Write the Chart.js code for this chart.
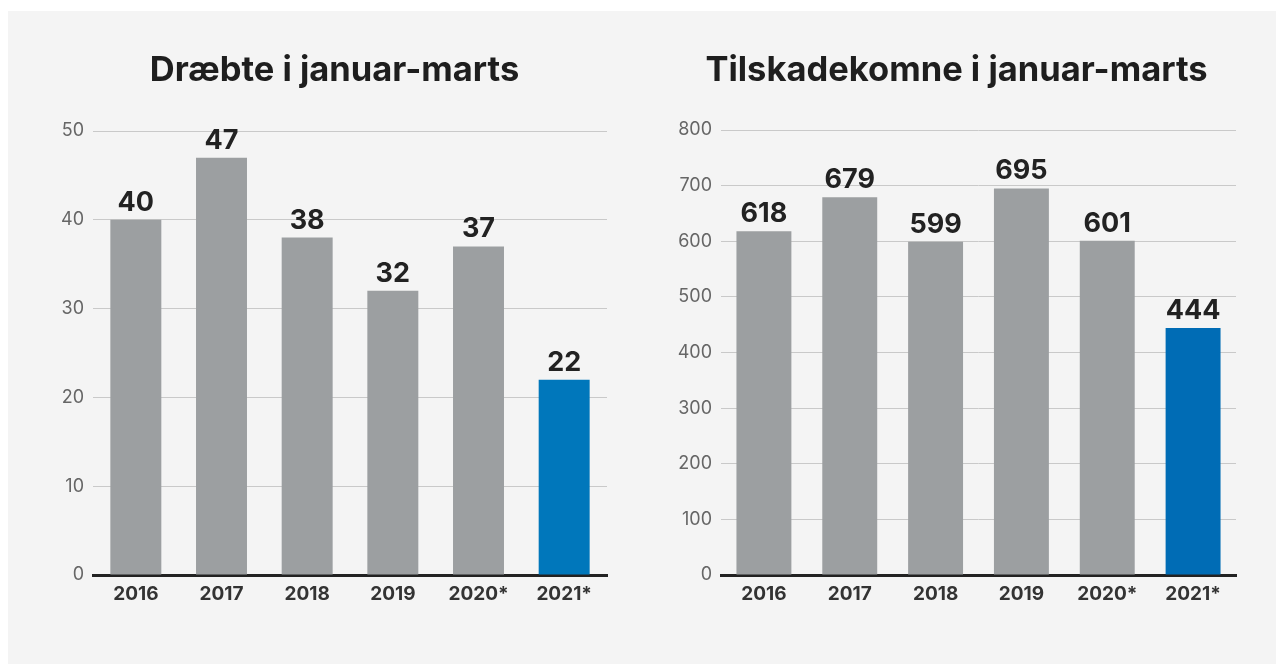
<!DOCTYPE html>
<html>
<head>
<meta charset="utf-8">
<script src="https://cdn.jsdelivr.net/npm/chart.js@4.4.1/dist/chart.umd.min.js"></script>
<style>
  html, body { margin: 0; padding: 0; background: #ffffff; }
  body { width: 1276px; height: 664px; position: relative; overflow: hidden; }
  #panel { position: absolute; left: 8px; top: 11px; right: 0; bottom: 0; background: #f4f4f4; }
  .box { position: absolute; top: 0; height: 664px; }
  #boxLeft { left: 0; width: 640px; }
  #boxRight { left: 640px; width: 636px; }
</style>
</head>
<body>
<div id="panel"></div>
<div class="box" id="boxLeft"><canvas id="killedChart"></canvas></div>
<div class="box" id="boxRight"><canvas id="injuredChart"></canvas></div>
<script>
// DATA

const years = ["2016", "2017", "2018", "2019", "2020*", "2021*"];
const killed = [40, 47, 38, 32, 37, 22];
const injured = [618, 679, 599, 695, 601, 444];

const killedTitle = "Dræbte i januar-marts";
const injuredTitle = "Tilskadekomne i januar-marts";

const killedTicks = { max: 50, step: 10 };
const injuredTicks = { max: 800, step: 100 };

// COLORS

const grayBar = "#9c9fa1";
const blueLeft = "#0077bb";
const blueRight = "#006cb5";

Chart.defaults.font.family = "Inter, 'Noto Sans', sans-serif";

// VALUE LABELS ABOVE BARS

const valueLabels = {
    id: "valueLabels",
    afterDatasetsDraw(chart) {
        const ctx = chart.ctx;
        const meta = chart.getDatasetMeta(0);
        const values = chart.data.datasets[0].data;
        ctx.save();
        ctx.font = "bold 27px Inter, 'Noto Sans', sans-serif";
        ctx.fillStyle = "#222222";
        ctx.textAlign = "center";
        ctx.textBaseline = "alphabetic";
        meta.data.forEach((bar, i) => {
            ctx.fillText(String(values[i]), bar.x, bar.y - 9);
        });
        ctx.restore();
    }
};

function makeChart(canvasId, values, lastColor, title, ticksCfg, pad, yWidth, barPct) {
    const colors = values.map((v, i) => i === values.length - 1 ? lastColor : grayBar);
    return new Chart(document.getElementById(canvasId), {
        type: "bar",
        data: {
            labels: years,
            datasets: [{
                data: values,
                backgroundColor: colors,
                borderWidth: 0,
                categoryPercentage: 1,
                barPercentage: barPct
            }]
        },
        options: {
            responsive: true,
            maintainAspectRatio: false,
            animation: false,
            layout: {
                padding: { left: pad.left, right: pad.right, top: 0, bottom: 0 }
            },
            scales: {
                x: {
                    grid: { display: false, drawTicks: false },
                    border: { display: true, width: 3, color: "#222222" },
                    ticks: {
                        color: "#333333",
                        padding: 8,
                        font: { size: 19, weight: "bold" }
                    },
                    afterFit: (scale) => { scale.height = 89; }
                },
                y: {
                    min: 0,
                    max: ticksCfg.max,
                    grid: { color: "#c9c9c9", lineWidth: 1, drawTicks: false },
                    border: { display: false },
                    ticks: {
                        stepSize: ticksCfg.step,
                        color: "#666666",
                        padding: 9,
                        font: { size: 18 }
                    },
                    afterFit: (scale) => { scale.width = yWidth; }
                }
            },
            plugins: {
                legend: { display: false },
                tooltip: { enabled: false },
                title: {
                    display: true,
                    text: title,
                    color: "#1e1e1e",
                    font: { size: 34.5, weight: "bold" },
                    padding: { top: 50, bottom: pad.titleBottom }
                }
            }
        },
        plugins: [valueLabels]
    });
}

makeChart("killedChart", killed, blueLeft, killedTitle, killedTicks,
    { left: 62, right: 33, titleBottom: 39.6 }, 31, 0.595);

makeChart("injuredChart", injured, blueRight, injuredTitle, injuredTicks,
    { left: 37, right: 40, titleBottom: 38.6 }, 44, 0.64);
</script>
</body>
</html>
